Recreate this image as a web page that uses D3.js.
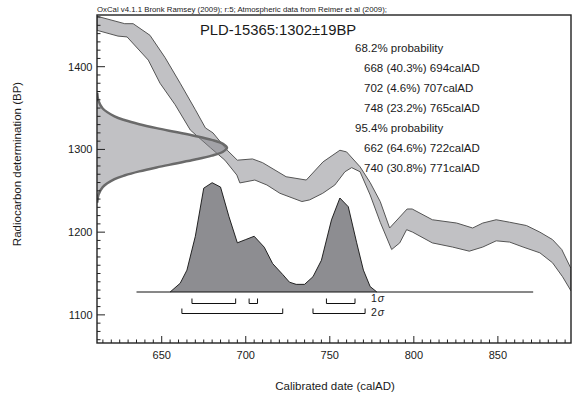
<!DOCTYPE html>
<html>
<head>
<meta charset="utf-8">
<script src="https://cdn.jsdelivr.net/npm/d3@7"></script>
<style>
  body { margin: 0; background: #fff; }
  text { font-family: "Liberation Sans", Arial, sans-serif; fill: #1a1a1a; }
</style>
</head>
<body>
<div id="chart"></div>
<script>
// ---------------- data ----------------
var sampleName = "PLD-15365";
var rcDate = 1302, rcError = 19;

// calibration curve, upper (+1 sigma) and lower (-1 sigma) edges [calAD, BP]
var curveUpper = [[611.5,1461],[628,1452],[633,1452],[643,1438],[652,1411],[661,1380],[670,1348],
  [676,1326],[680.5,1320],[689,1299],[695,1287],[704,1288.5],[710,1284],[724,1267],[736,1263],
  [746,1285],[756,1299],[760,1297],[768,1279],[774,1260],[780,1237],[785.6,1205],[796,1228],
  [799,1228],[811,1215],[825.5,1211],[835,1205],[841,1211],[849,1215],[857,1212],[867,1208],
  [875,1200],[882.5,1191],[888,1179],[893.5,1156]];
var curveLower = [[611.5,1444],[624,1437],[629.4,1436],[642,1408],[649,1380],[658,1354],[667,1323.5],
  [679,1302],[687.6,1287],[694.7,1269],[696.5,1259.5],[705.4,1263],[712.6,1257],[720.3,1247],
  [733.4,1237],[738,1239],[745.8,1247],[753,1257],[759,1273],[763,1278],[768,1273],[774,1245],
  [780,1212],[786.8,1179],[791.6,1187],[795.7,1203],[799.3,1200],[811,1187],[823,1182],[833,1177],
  [841,1182],[849,1189.5],[857,1188],[865,1182],[875,1175],[882.5,1163],[888.5,1146],[893.5,1129]];

// radiocarbon likelihood profile, offsets in sigma vs relative height
var rcProfileZ = [-3.5,-3,-2.5,-2,-1.75,-1.5,-1.25,-1,-0.75,-0.5,-0.25,0,0.25,0.5,0.75,1,1.25,1.5,1.75,2,2.5,3,3.5];
var rcProfileH = [0.002,0.011,0.044,0.135,0.216,0.325,0.458,0.607,0.755,0.882,0.969,1,0.969,0.882,0.755,0.607,0.458,0.325,0.216,0.135,0.044,0.011,0.002];

// calibrated probability distribution
var calYears = [655,661,665,670,675,680,685,690,695,700,705,711,716,722,726,730,735,740,745,751,756,761,766,770,774,778];
var calProb  = [0,0.08,0.20,0.51,0.95,1.0,0.96,0.69,0.45,0.48,0.51,0.41,0.26,0.16,0.09,0.07,0.07,0.14,0.29,0.66,0.86,0.78,0.45,0.20,0.05,0];
var calBaseline = [635, 871];

// ranges: [from, to, percent]
var sig1Ranges = [[668,694,40.3],[702,707,4.6],[748,765,23.2]];
var sig2Ranges = [[662,722,64.6],[740,771,30.8]];

var xMajor = [650,700,750,800,850];
var yMajor = [1100,1200,1300,1400];

// ---------------- drawing ----------------
var W = 573, H = 401;
var L = 97, R = 571, T = 15, B = 343;

var svg = d3.select("#chart").append("svg")
    .attr("width", W).attr("height", H);

var x = d3.scaleLinear().domain([611.5, 893.5]).range([L, R]);
var y = d3.scaleLinear().domain([1066, 1462.5]).range([B, T]);
var py = d3.scaleLinear().domain([0, 1]).range([292, 182.7]);   // calibrated prob height
var gx = d3.scaleLinear().domain([0, 1]).range([L, 227]);       // rc likelihood width

svg.append("defs").append("clipPath").attr("id", "plotclip")
  .append("rect").attr("x", L).attr("y", T).attr("width", R - L).attr("height", B - T);

var plot = svg.append("g").attr("clip-path", "url(#plotclip)");

// calibration curve band
var band = curveUpper.concat(curveLower.slice().reverse());
plot.append("path")
    .attr("d", d3.line().x(function(d){ return x(d[0]); }).y(function(d){ return y(d[1]); })(band) + "Z")
    .attr("fill", "#84848a").attr("fill-opacity", 0.5)
    .attr("stroke", "#555").attr("stroke-width", 1);

// radiocarbon likelihood on the y axis
var rcPts = rcProfileZ.map(function(z, i){ return [rcProfileH[i], rcDate + z * rcError]; });
plot.append("path")
    .attr("d", d3.line().curve(d3.curveCatmullRom)
        .x(function(d){ return gx(d[0]); }).y(function(d){ return y(d[1]); })(rcPts))
    .attr("fill", "#84848a").attr("fill-opacity", 0.5)
    .attr("stroke", "#6a6a6a").attr("stroke-width", 2.5);

// calibrated distribution
plot.append("path")
    .datum(calYears.map(function(yr, i){ return [yr, calProb[i]]; }))
    .attr("d", d3.line().x(function(d){ return x(d[0]); }).y(function(d){ return py(d[1]); }))
    .attr("fill", "#8d8d91").attr("stroke", "#111").attr("stroke-width", 0.9);

plot.append("line")
    .attr("x1", x(calBaseline[0])).attr("x2", x(calBaseline[1]))
    .attr("y1", py(0)).attr("y2", py(0))
    .attr("stroke", "#111").attr("stroke-width", 1);

// range brackets
function brackets(ranges, yb) {
  plot.selectAll(null).data(ranges).enter().append("path")
    .attr("d", function(d){
      return "M" + x(d[0]) + "," + (yb - 5) + "V" + yb + "H" + x(d[1]) + "V" + (yb - 5);
    })
    .attr("fill", "none").attr("stroke", "#111").attr("stroke-width", 1);
}
brackets(sig1Ranges, 303.5);
brackets(sig2Ranges, 313.5);

var sigLab = [["1", 302], ["2", 316]];
sigLab.forEach(function(s){
  var t = svg.append("text").attr("x", 371).attr("y", s[1]).attr("font-size", "10.5px");
  t.append("tspan").text(s[0]);
  t.append("tspan").attr("font-style", "italic").attr("dx", 1).text("σ");
});

// axes: frame + inward ticks
var frame = svg.append("g");
frame.append("rect").attr("x", L).attr("y", T).attr("width", R - L).attr("height", B - T)
    .attr("fill", "none").attr("stroke", "#222").attr("stroke-width", 1.4);

var xMinor = d3.range(615, 894, 5);
frame.selectAll(null).data(xMinor).enter().append("line")
    .attr("x1", function(d){ return x(d); }).attr("x2", function(d){ return x(d); })
    .attr("y1", B).attr("y2", function(d){ return xMajor.indexOf(d) >= 0 ? B - 7 : B - 3.5; })
    .attr("stroke", "#222").attr("stroke-width", 1);
frame.selectAll(null).data(xMajor).enter().append("text")
    .attr("x", function(d){ return x(d); }).attr("y", 359)
    .attr("text-anchor", "middle").attr("font-size", "11px")
    .text(function(d){ return d; });

var yMinor = d3.range(1070, 1461, 10);
frame.selectAll(null).data(yMinor).enter().append("line")
    .attr("y1", function(d){ return y(d); }).attr("y2", function(d){ return y(d); })
    .attr("x1", L).attr("x2", function(d){ return yMajor.indexOf(d) >= 0 ? L + 8 : L + 3.5; })
    .attr("stroke", "#222").attr("stroke-width", 1);
frame.selectAll(null).data(yMajor).enter().append("text")
    .attr("x", 92.5).attr("y", function(d){ return y(d); }).attr("dy", "0.36em")
    .attr("text-anchor", "end").attr("font-size", "11px")
    .text(function(d){ return d; });

// axis titles
svg.append("text").attr("x", 335).attr("y", 390).attr("text-anchor", "middle")
    .attr("font-size", "11.5px").text("Calibrated date (calAD)");
svg.append("text").attr("transform", "translate(21,164) rotate(-90)").attr("text-anchor", "middle")
    .attr("font-size", "11.5px").text("Radiocarbon determination (BP)");

// header and annotations
svg.append("text").attr("x", 97).attr("y", 12).attr("font-size", "7.8px")
    .text("OxCal v4.1.1 Bronk Ramsey (2009); r:5; Atmospheric data from Reimer et al (2009);");
svg.append("text").attr("x", 200).attr("y", 35).attr("font-size", "14.8px")
    .text(sampleName + ":" + rcDate + "±" + rcError + "BP");

var lines = [["68.2% probability", 355]];
sig1Ranges.forEach(function(r){ lines.push([r[0] + " (" + r[2] + "%) " + r[1] + "calAD", 364]); });
lines.push(["95.4% probability", 355]);
sig2Ranges.forEach(function(r){ lines.push([r[0] + " (" + r[2] + "%) " + r[1] + "calAD", 364]); });
svg.selectAll(null).data(lines).enter().append("text")
    .attr("x", function(d){ return d[1]; })
    .attr("y", function(d, i){ return 52 + i * 20; })
    .attr("font-size", "11.5px")
    .text(function(d){ return d[0]; });
</script>
</body>
</html>
